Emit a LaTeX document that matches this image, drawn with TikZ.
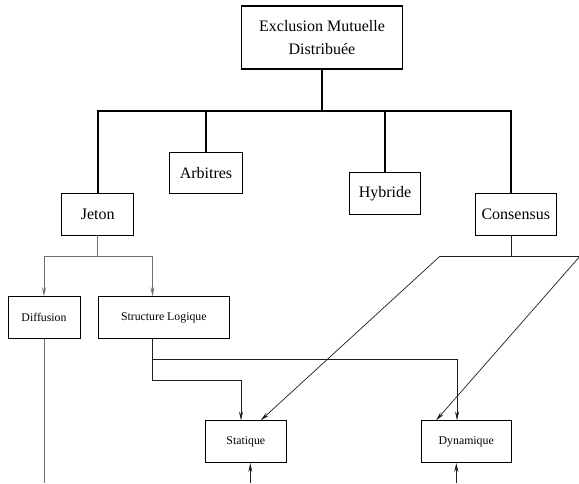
\documentclass[tikz,border=0pt]{standalone}
\usepackage{fontspec}
\setmainfont{Liberation Serif}
\usepackage{tikz}
\usetikzlibrary{arrows.meta,positioning,calc}
\definecolor{cLine}{RGB}{30,30,30}
\definecolor{cGrayLine}{RGB}{110,110,110}
\tikzset{
  basebox/.style={rectangle,draw=black,line width=0.8pt,inner sep=0pt,
                  align=center,text=black},
  topnode/.style={basebox,line width=1.8pt,minimum width=161pt,minimum height=63pt,
                  font=\fontsize{16}{23}\selectfont},
  bignode/.style={basebox,minimum height=41.7pt,font=\fontsize{16}{19}\selectfont},
  smallnode/.style={basebox,minimum height=41.8pt,font=\fontsize{11.8}{14}\selectfont},
  thkline/.style={line width=1.8pt,color=black},
  thinline/.style={line width=0.7pt,color=cLine},
  grayline/.style={line width=0.9pt,color=cGrayLine},
  arr/.style={-{Stealth[length=9pt,width=4pt,inset=3pt]},thinline},
  grayarr/.style={-{Stealth[length=9pt,width=4pt,inset=3pt]},grayline}
}
\begin{document}
\begin{tikzpicture}[x=1pt,y=1pt]
  \useasboundingbox (0,0) rectangle (579,-483);

  \node[topnode] (emd) at (322,-37.5) {Exclusion Mutuelle\\Distribuée};

  \node[bignode,minimum width=72.4pt] (arb) at (206,-172.8) {Arbitres};
  \node[bignode,minimum width=71.7pt] (hyb) at (385,-193.3) {Hybride};
  \node[bignode,minimum width=72pt] (jet) at (97.7,-214.2) {Jeton};
  \node[bignode,minimum width=81.4pt,right=340.6pt of jet] (cons) {Consensus};

  \node[smallnode,minimum width=72pt] (diff) at (44,-317.5) {Diffusion};
  \node[smallnode,minimum width=130.6pt,right=17.7pt of diff] (sl) {Structure Logique};

  \node[smallnode,minimum width=80.3pt] (stat) at (245.8,-441.7) {Statique};
  \node[smallnode,minimum width=89.6pt,right=134.7pt of stat] (dyn) {Dynamique};

  \coordinate (tbar) at ($(emd.south)+(0,-41)$);
  \coordinate (consin) at ([xshift=-4.5pt]cons.north);
  \coordinate (consout) at ([xshift=-4.5pt]cons.south);
  \coordinate (slout) at ([xshift=-11.3pt]sl.south);
  \coordinate (diffend) at (diff.south |- 0,-483);
  \coordinate (statin) at (250.3,-483);
  \coordinate (dynin) at (456.3,-483);

  \draw[thkline] (emd.south) -- (tbar);
  \draw[thkline] (jet.north) |- (consin |- tbar) -- (consin);
  \draw[thkline] (arb.north) -- (arb.north |- tbar);
  \draw[thkline] (hyb.north) -- (hyb.north |- tbar);

  \draw[grayline] (jet.south) -- ++(0,-20.7) coordinate (jsplit);
  \draw[grayarr] (jsplit) -| (diff.north);
  \draw[grayarr] (jsplit) -| ([xshift=-11.3pt]sl.north);
  \draw[grayline] (diff.south) -- (diffend);

  \draw[arr] (slout) -- ++(0,-41.7) -| ([xshift=-4.8pt]stat.north);
  \draw[arr] (slout) -- ++(0,-21) -| ([xshift=-9.2pt]dyn.north);

  \draw[thinline] (consout) -- ++(0,-20.7) coordinate (csplit);
  \draw[thinline] ($(csplit)+(-71.3,0)$) coordinate (cleft)
      -- ($(csplit)+(68.7,0)$) coordinate (cright);
  \draw[arr] (cleft) -- ([xshift=14.9pt]stat.north);
  \draw[arr] (cright) -- ([xshift=-30.2pt]dyn.north);

  \draw[arr] (statin) -- (statin |- stat.south);
  \draw[arr] (dynin) -- (dynin |- dyn.south);

\end{tikzpicture}
\end{document}
